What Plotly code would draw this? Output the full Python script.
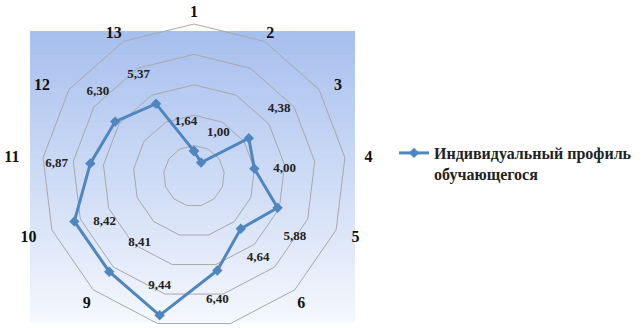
import plotly.graph_objects as go

categories = ["1", "2", "3", "4", "5", "6", "7", "8", "9", "10", "11", "12", "13"]
values = [1.64, 1.00, 4.38, 4.00, 5.88, 4.64, 6.40, 9.44, 8.41, 8.42, 6.87, 6.30, 5.37]
value_labels = ["1,64", "1,00", "4,38", "4,00", "5,88", "4,64", "6,40", "9,44", "8,41", "8,42", "6,87", "6,30", "5,37"]
series_name = "Индивидуальный профиль<br>обучающегося"

# styling of the labels (positions relative to the markers)
label_pos = ["top center", "top right", "top right", "middle right", "bottom right",
             "bottom right", "bottom center", "top center", "top right", "middle right",
             "middle left", "top left", "top left"]
label_lead = ["", "", "", "", "", "", "", "", "", "", "", "", ""]
label_trail = ["     ", "", "", "", "", "", "", "", "", "", "", "", ""]
tick_lead = ["", "", "   ", "    ", "   ", "", "", "", "", "", "", "", ""]
tick_trail = ["", "", "", "", "", "", "", "", "", "   ", "     ", "    ", ""]


def pad(t, p, lead, trail):
    t = lead + t + trail
    if p.startswith("top"):
        t = t + "<br> "
    if p.startswith("bottom"):
        t = " <br>" + t
    if p.endswith("right") and p != "top right":
        t = "    " + t
    if p.endswith("left"):
        t = t + "     "
    return t


texts = [pad(*a) for a in zip(value_labels, label_pos, label_lead, label_trail)]
texts[2] = "    " + texts[2]
texts[8] = "    " + texts[8]
tick_text = [a + c + b for c, a, b in zip(categories, tick_lead, tick_trail)]

W, H = 642, 328
fig = go.Figure()

fig.add_trace(go.Scatterpolar(
    r=values + [values[0]],
    theta=categories + [categories[0]],
    mode="lines+markers+text",
    text=texts + [""],
    textposition=label_pos + ["top center"],
    textfont=dict(family="Liberation Serif", size=13, color="#222222", weight="bold"),
    line=dict(color="#4f86c0", width=3),
    marker=dict(symbol="diamond", size=8, color="#4f86c0"),
    name=series_name,
    showlegend=True,
))

# gradient background of plot area
x0, x1, y0, y1 = 30, 355, 31, 322
n = 60
top = (167, 191, 238)
bot = (244, 247, 253)
for i in range(n):
    f = i / (n - 1)
    c = tuple(int(round(top[k] + (bot[k] - top[k]) * f)) for k in range(3))
    ya = y0 + (y1 - y0) * i / n
    yb = y0 + (y1 - y0) * (i + 1) / n + 0.6
    fig.add_shape(type="rect", xref="paper", yref="paper",
                  x0=x0 / W, x1=x1 / W, y0=1 - yb / H, y1=1 - ya / H,
                  line=dict(width=0), fillcolor="rgb(%d,%d,%d)" % c, layer="below")

cx, cy, R = 194, 176, 152
fig.update_layout(
    width=W, height=H,
    margin=dict(l=0, r=0, t=0, b=0),
    paper_bgcolor="white",
    showlegend=True,
    legend=dict(x=394 / W, y=1 - 136 / H, xanchor="left", yanchor="top",
                font=dict(family="Liberation Serif", size=16, color="#222222", weight="bold"),
                bgcolor="rgba(0,0,0,0)", valign="top", itemwidth=30,
                tracegroupgap=0),
    polar=dict(
        domain=dict(x=[(cx - R) / W, (cx + R) / W],
                    y=[max(0, 1 - (cy + R) / H), 1 - (cy - R) / H]),
        bgcolor="rgba(0,0,0,0)",
        gridshape="linear",
        radialaxis=dict(range=[0, 10], dtick=2, showticklabels=False, ticks="",
                        showline=False, gridcolor="#a8a8a8", gridwidth=1),
        angularaxis=dict(rotation=90, direction="clockwise", showgrid=False,
                         showline=True, linecolor="#a8a8a8", linewidth=1,
                         ticks="", tickmode="array", tickvals=categories, ticktext=tick_text,
                         tickfont=dict(family="Liberation Serif", size=16, color="#111111",
                                       weight="bold")),
    ),
    font=dict(family="Liberation Serif"),
)

fig.write_html("out.html", config={"displayModeBar": False},
               post_script="document.body.style.margin='0';document.body.style.overflow='hidden';")
